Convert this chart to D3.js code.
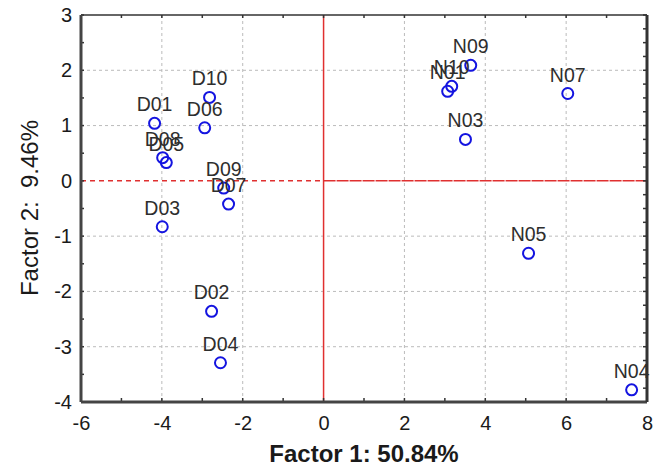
<!DOCTYPE html>
<html lang="en">
<head>
  <meta charset="UTF-8">
  <title>Factor plot</title>
  <script src="https://d3js.org/d3.v7.min.js"></script>
  <style>
    body { margin: 0; background: #fff; }
    text { font-family: "Liberation Sans", Arial, sans-serif; fill: #222; }
    .tick text { font-size: 20px; fill: #1a1a1a; }
    .lbl { font-size: 19.5px; fill: #2e2e2e; }
    .title { font-size: 24px; fill: #1a1a1a; }
  </style>
</head>
<body>
<div id="container"></div>
<script>
  const svg_width = 659;
  const svg_height = 468;

  // sample names and factor scores
  var names = ['D01', 'D02', 'D03', 'D04', 'D05', 'D06', 'D07', 'D08', 'D09', 'D10',
               'N01', 'N03', 'N04', 'N05', 'N07', 'N09', 'N10'];
  var factor1 = [-4.18, -2.77, -3.99, -2.55, -3.89, -2.94, -2.35, -3.98, -2.47, -2.82,
                 3.07, 3.51, 7.62, 5.07, 6.04, 3.64, 3.17];
  var factor2 = [1.04, -2.36, -0.83, -3.29, 0.33, 0.96, -0.42, 0.42, -0.13, 1.51,
                 1.62, 0.75, -3.78, -1.31, 1.58, 2.09, 1.71];
  var x_ticks = [-6, -4, -2, 0, 2, 4, 6, 8];
  var y_ticks = [3, 2, 1, 0, -1, -2, -3, -4];

  var p_left = 81, p_right = 647, p_top = 15, p_bottom = 402;

  var svg = d3.select('#container')
    .append('svg')
    .attr('width', svg_width)
    .attr('height', svg_height);

  var x_scale = d3.scaleLinear().domain([-6, 8]).range([p_left, p_right]);
  var y_scale = d3.scaleLinear().domain([-4, 3]).range([p_bottom, p_top]);

  // grid
  svg.append('g').selectAll('line')
    .data(x_ticks.slice(1, -1).filter(function (d) { return d !== 0; }))
    .enter().append('line')
    .attr('x1', function (d) { return x_scale(d); })
    .attr('x2', function (d) { return x_scale(d); })
    .attr('y1', p_top).attr('y2', p_bottom)
    .attr('stroke', '#bbb').attr('stroke-width', 1)
    .attr('stroke-dasharray', '3,3');
  svg.append('g').selectAll('line')
    .data(y_ticks.slice(1, -1).filter(function (d) { return d !== 0; }))
    .enter().append('line')
    .attr('y1', function (d) { return y_scale(d); })
    .attr('y2', function (d) { return y_scale(d); })
    .attr('x1', p_left).attr('x2', p_right)
    .attr('stroke', '#bbb').attr('stroke-width', 1)
    .attr('stroke-dasharray', '3,3');

  // red zero lines
  svg.append('line')
    .attr('x1', x_scale(0)).attr('x2', x_scale(0))
    .attr('y1', p_top).attr('y2', p_bottom)
    .attr('stroke', '#e03030').attr('stroke-width', 1.5);
  svg.append('line')
    .attr('x1', p_left).attr('x2', x_scale(0))
    .attr('y1', y_scale(0)).attr('y2', y_scale(0))
    .attr('stroke', '#e03030').attr('stroke-width', 1.5)
    .attr('stroke-dasharray', '5,4');
  svg.append('line')
    .attr('x1', x_scale(0)).attr('x2', p_right)
    .attr('y1', y_scale(0)).attr('y2', y_scale(0))
    .attr('stroke', '#e03030').attr('stroke-width', 1.5)
    .attr('stroke-dasharray', '12,1');

  // frame with inner ticks
  var x_minor = d3.range(-6, 8.01, 1);
  var y_minor = d3.range(-4, 3.01, 0.25);
  var frame = svg.append('g').attr('stroke', '#333');
  frame.selectAll('.xt').data(x_minor).enter().append('line')
    .attr('x1', function (d) { return x_scale(d); })
    .attr('x2', function (d) { return x_scale(d); })
    .attr('y1', p_bottom).attr('y2', p_bottom - 4)
    .attr('stroke-width', 1.5);
  frame.selectAll('.xt2').data(x_minor).enter().append('line')
    .attr('x1', function (d) { return x_scale(d); })
    .attr('x2', function (d) { return x_scale(d); })
    .attr('y1', p_top).attr('y2', p_top + 3)
    .attr('stroke-width', 1.5);
  frame.selectAll('.yt').data(y_minor).enter().append('line')
    .attr('y1', function (d) { return y_scale(d); })
    .attr('y2', function (d) { return y_scale(d); })
    .attr('x1', p_right).attr('x2', p_right - 4)
    .attr('stroke-width', 1.5);
  frame.selectAll('.yt2').data(y_minor.filter(function (d) { return d % 0.5 === 0; }))
    .enter().append('line')
    .attr('y1', function (d) { return y_scale(d); })
    .attr('y2', function (d) { return y_scale(d); })
    .attr('x1', p_left).attr('x2', p_left + 3)
    .attr('stroke-width', 1.5);
  svg.append('line').attr('x1', p_left).attr('x2', p_right).attr('y1', p_top).attr('y2', p_top)
    .attr('stroke', '#333').attr('stroke-width', 1.5);
  svg.append('line').attr('x1', p_left).attr('x2', p_right).attr('y1', p_bottom).attr('y2', p_bottom)
    .attr('stroke', '#444').attr('stroke-width', 3);
  svg.append('line').attr('x1', p_left).attr('x2', p_left).attr('y1', p_top).attr('y2', p_bottom)
    .attr('stroke', '#444').attr('stroke-width', 3);
  svg.append('line').attr('x1', p_right).attr('x2', p_right).attr('y1', p_top).attr('y2', p_bottom)
    .attr('stroke', '#333').attr('stroke-width', 3);

  // axes labels
  var fmt = function (d) { return String(d); };
  var x_axis = d3.axisBottom(x_scale).tickValues(x_ticks).tickSize(0).tickPadding(0).tickFormat(fmt);
  var gx = svg.append('g')
    .attr('transform', 'translate(0,' + 416 + ')')
    .call(x_axis);
  gx.select('.domain').remove();
  gx.selectAll('.tick text').attr('dy', '0.71em');

  var y_axis = d3.axisLeft(y_scale).tickValues(y_ticks).tickSize(0).tickPadding(0).tickFormat(fmt);
  var gy = svg.append('g')
    .attr('transform', 'translate(' + 72 + ',0)')
    .call(y_axis);
  gy.select('.domain').remove();

  // points
  var dataset = names.map(function (n, i) { return [factor1[i], factor2[i], n]; });
  svg.append('g').selectAll('circle')
    .data(dataset)
    .enter()
    .append('circle')
    .attr('cx', function (d) { return x_scale(d[0]); })
    .attr('cy', function (d) { return y_scale(d[1]); })
    .attr('r', 5.5)
    .attr('fill', 'none')
    .attr('stroke', '#1414e0')
    .attr('stroke-width', 2);

  svg.append('g').selectAll('text')
    .data(dataset)
    .enter()
    .append('text')
    .attr('class', 'lbl')
    .attr('x', function (d) { return x_scale(d[0]); })
    .attr('y', function (d) { return y_scale(d[1]) - 12; })
    .attr('text-anchor', 'middle')
    .text(function (d) { return d[2]; });

  // titles
  svg.append('text')
    .attr('class', 'title')
    .attr('x', (p_left + p_right) / 2)
    .attr('y', 462)
    .attr('text-anchor', 'middle')
    .style('font-weight', 'bold')
    .text('Factor 1: 50.84%');
  svg.append('text')
    .attr('class', 'title')
    .attr('transform', 'translate(38,' + 208 + ') rotate(-90)')
    .attr('text-anchor', 'middle')
    .style('white-space', 'pre')
    .text('Factor 2:  9.46%');
</script>
</body>
</html>
